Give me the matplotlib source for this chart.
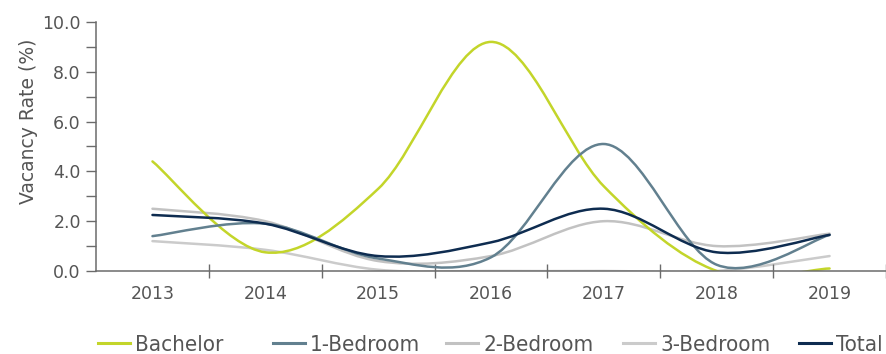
import numpy as np
import matplotlib.pyplot as plt
from matplotlib.path import Path
from matplotlib.patches import PathPatch
from matplotlib.lines import Line2D
from matplotlib.font_manager import FontProperties

# values (vacancy rate, %)
years = ['2013', '2014', '2015', '2016', '2017', '2018', '2019']
bachelor = [4.4, 0.75, 3.3, 9.2, 3.4, 0.0, 0.1]
one_bed = [1.4, 1.9, 0.5, 0.55, 5.1, 0.25, 1.45]
two_bed = [2.5, 2.0, 0.4, 0.6, 2.0, 1.0, 1.5]
three_bed = [1.2, 0.85, 0.05, 0.0, 0.0, 0.0, 0.6]
total = [2.25, 1.9, 0.6, 1.15, 2.5, 0.75, 1.45]

series = [
    ('Bachelor', bachelor, '#c3d52a', 2),
    ('1-Bedroom', one_bed, '#62808f', 3),
    ('2-Bedroom', two_bed, '#c2c2c2', 1),
    ('3-Bedroom', three_bed, '#cbcbcb', 1),
    ('Total', total, '#0e2c50', 4),
]

text_col = '#555555'


def smooth_path(values):
    # smoothed line like a spreadsheet chart: one cubic bezier per segment
    pts = np.column_stack([np.arange(len(values), dtype=float),
                           np.asarray(values, dtype=float)])
    n = len(pts)
    verts = [pts[0]]
    codes = [Path.MOVETO]
    for i in range(n - 1):
        p0 = pts[max(i - 1, 0)]
        p1 = pts[i]
        p2 = pts[i + 1]
        p3 = pts[min(i + 2, n - 1)]
        verts += [p1 + (p2 - p0) / 6, p2 - (p3 - p1) / 6, p2]
        codes += [Path.CURVE4] * 3
    return Path(verts, codes)


fig = plt.figure(figsize=(8.86, 3.54), dpi=100)
ax = fig.add_axes([0.1084, 0.2345, 0.8916, 0.7034])

handles = []
for name, vals, col, z in series:
    patch = PathPatch(smooth_path(vals), fill=False, edgecolor=col,
                      lw=1.8, zorder=z, capstyle='round')
    ax.add_patch(patch)
    handles.append(Line2D([], [], color=col, lw=2.2))

ax.set_xlim(-0.5, 6.5)
ax.set_ylim(0, 10)

for s in ['top', 'right']:
    ax.spines[s].set_visible(False)
for s in ['left', 'bottom']:
    ax.spines[s].set_color('#6b6b6b')
    ax.spines[s].set_linewidth(1.1)
    ax.spines[s].set_zorder(5)

ax.set_xticks(range(len(years)))
ax.set_xticklabels(years)
ax.set_xticks(np.arange(0.5, 7, 1), minor=True)
ax.tick_params(axis='x', which='major', length=0, pad=10,
               labelsize=12.5, labelcolor=text_col)
ax.tick_params(axis='x', which='minor', direction='inout', length=10,
               color='#6b6b6b', width=1)

ax.set_yticks(np.arange(0, 10.1, 2))
ax.set_yticklabels(['%.1f' % v for v in np.arange(0, 10.1, 2)])
ax.set_yticks(np.arange(1, 10, 2), minor=True)
ax.tick_params(axis='y', which='both', direction='out', length=7,
               color='#6b6b6b', width=1, labelsize=12.5,
               labelcolor=text_col, pad=4)
ax.set_ylabel('Vacancy Rate (%)', fontsize=13.5, color=text_col)
ax.yaxis.set_label_coords(-0.074, 0.60)

# legend cells are evenly spaced along the bottom
leg_font = FontProperties(family='DejaVu Sans', stretch='condensed', size=16)
leg_x = [98, 273, 446, 623, 799]
for h, (name, *_), x in zip(handles, series, leg_x):
    fig.legend([h], [name], loc='center left',
               bbox_to_anchor=(x / 886, 1 - 345 / 354), frameon=False,
               handlelength=1.45, handletextpad=0.22, borderpad=0,
               borderaxespad=0, prop=leg_font, labelcolor=text_col)

fig.savefig('out.png', dpi=100)
